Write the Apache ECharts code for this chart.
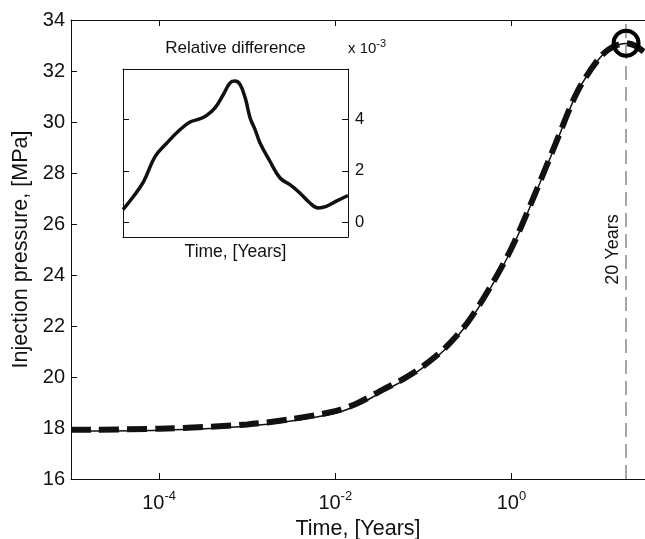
<!DOCTYPE html>
<html>
<head>
<meta charset="utf-8">
<script src="https://cdn.jsdelivr.net/npm/echarts@6/dist/echarts.min.js"></script>
<style>
html, body { margin: 0; padding: 0; background: #fff; }
#chart { width: 645px; height: 539px; }
</style>
</head>
<body>
<div id="chart"></div>
<script>
// main curves: time [years] vs injection pressure [MPa]
const times = [1e-5, 1e-4, 1e-3, 0.00316, 0.01, 0.0178, 0.0316, 0.0562, 0.1, 0.178, 0.316, 0.562, 1, 1.78, 3.16, 5.62, 10, 14.1, 20, 25.1, 31.6];
const pressureSolid = [17.88, 17.91, 18.07, 18.27, 18.58, 18.89, 19.36, 19.82, 20.38, 21.10, 22.08, 23.42, 25.00, 27.00, 29.10, 31.18, 32.50, 32.93, 33.08, 33.00, 32.76];
const pressureDashed = [17.93, 17.97, 18.14, 18.35, 18.66, 18.97, 19.43, 19.88, 20.43, 21.15, 22.13, 23.47, 25.05, 27.04, 29.14, 31.20, 32.52, 32.95, 33.09, 33.00, 32.76];

// 20 years marker
const markTime = [20];
const markPressure = [33.09];

// inset: relative difference (x 1e-3), position along the inset time axis
const diffPos = [0, 0.047, 0.092, 0.143, 0.195, 0.254, 0.298, 0.343, 0.372, 0.409, 0.446, 0.476, 0.498, 0.52, 0.543, 0.565, 0.587, 0.609, 0.653, 0.698, 0.742, 0.786, 0.831, 0.867, 0.904, 0.948, 1.0];
const diffValue = [0.49, 1.01, 1.59, 2.56, 3.08, 3.6, 3.89, 4.02, 4.15, 4.44, 4.96, 5.41, 5.48, 5.35, 4.83, 4.05, 3.6, 3.08, 2.37, 1.72, 1.46, 1.14, 0.75, 0.56, 0.62, 0.82, 1.04];

// tick labels
const xTicks = [1e-4, 1e-2, 1];
const insetTicks = [0, 2, 4];

const font = "'Liberation Sans', Arial, Helvetica, sans-serif";
const black = '#111';

const chart = echarts.init(document.getElementById('chart'));

const lineAxis = { show: true, onZero: false, lineStyle: { color: black, width: 1 } };
const inTick = (vals) => ({ show: true, inside: true, length: 6, customValues: vals, lineStyle: { color: black } });

const option = {
  animation: false,
  backgroundColor: '#fff',
  textStyle: { fontFamily: font },
  grid: [
    { left: 71, top: 20, right: 0, bottom: 60, outerBoundsMode: 'none', containLabel: false },
    { left: 123, top: 69, width: 225, height: 168, outerBoundsMode: 'none', containLabel: false }
  ],
  xAxis: [
    {
      type: 'log', logBase: 10, gridIndex: 0, min: 1e-5, max: 32.8,
      axisLine: lineAxis,
      axisTick: inTick(xTicks),
      splitLine: { show: false },
      axisLabel: {
        customValues: xTicks,
        margin: 11,
        color: black, fontSize: 20, fontFamily: font,
        formatter: (v) => '10{sup|' + Math.round(Math.log10(v)) + '}',
        rich: { sup: { fontSize: 13, fontFamily: font, color: black, padding: [0, 0, 13, 0] } }
      },
      name: 'Time, [Years]', nameLocation: 'middle', nameGap: 36,
      nameTextStyle: { fontSize: 21.5, color: black, fontFamily: font }
    },
    {
      type: 'log', logBase: 10, gridIndex: 0, min: 1e-5, max: 32.8, position: 'top',
      axisLine: lineAxis,
      axisTick: inTick(xTicks),
      axisLabel: { show: false },
      splitLine: { show: false }
    },
    {
      type: 'value', gridIndex: 1, min: 0, max: 1,
      axisLine: lineAxis,
      axisTick: { show: false },
      axisLabel: { show: false },
      splitLine: { show: false },
      name: 'Time, [Years]', nameLocation: 'middle', nameGap: 6,
      nameTextStyle: { fontSize: 17.5, color: black, fontFamily: font }
    },
    {
      type: 'value', gridIndex: 1, min: 0, max: 1, position: 'top',
      axisLine: lineAxis,
      axisTick: { show: false },
      axisLabel: { show: false },
      splitLine: { show: false },
      name: 'Relative difference', nameLocation: 'middle', nameGap: 12,
      nameTextStyle: { fontSize: 17, color: black, fontFamily: font }
    }
  ],
  yAxis: [
    {
      type: 'value', gridIndex: 0, min: 16, max: 34, interval: 2,
      axisLine: lineAxis,
      axisTick: { show: true, inside: true, length: 6, lineStyle: { color: black } },
      splitLine: { show: false },
      axisLabel: { color: black, fontSize: 20, fontFamily: font, margin: 6 },
      name: 'Injection pressure, [MPa]', nameLocation: 'middle', nameGap: 38,
      nameTextStyle: { fontSize: 21.5, color: black, fontFamily: font }
    },
    {
      type: 'value', gridIndex: 1, min: -0.57, max: 5.95,
      axisLine: lineAxis,
      axisTick: inTick(insetTicks),
      axisLabel: { show: false },
      splitLine: { show: false }
    },
    {
      type: 'value', gridIndex: 1, min: -0.57, max: 5.95, position: 'right',
      axisLine: lineAxis,
      axisTick: inTick(insetTicks),
      splitLine: { show: false },
      axisLabel: { customValues: insetTicks, color: black, fontSize: 16.5, fontFamily: font, margin: 7 },
      name: 'x 10{sup|-3}', nameLocation: 'end', nameGap: 10,
      nameTextStyle: {
        align: 'left', fontSize: 15, color: black, fontFamily: font,
        rich: { sup: { fontSize: 11, fontFamily: font, color: black, padding: [0, 0, 10, 0] } }
      }
    }
  ],
  series: [
    {
      name: 'solid', type: 'line', xAxisIndex: 0, yAxisIndex: 0,
      data: times.map((t, i) => [t, pressureSolid[i]]),
      smooth: 0.3, showSymbol: false,
      lineStyle: { color: black, width: 1.5 }
    },
    {
      name: 'dashed', type: 'line', xAxisIndex: 0, yAxisIndex: 0,
      data: times.map((t, i) => [t, pressureDashed[i]]),
      smooth: 0.3, showSymbol: false,
      lineStyle: { color: black, width: 6, type: [20, 8], cap: 'butt' }
    },
    {
      name: 'marker', type: 'scatter', xAxisIndex: 0, yAxisIndex: 0,
      data: markTime.map((t, i) => [t, markPressure[i]]),
      symbol: 'circle', symbolSize: 25, z: 5,
      itemStyle: { color: 'rgba(0,0,0,0)', borderColor: '#000', borderWidth: 4, opacity: 1 },
      markLine: {
        silent: true, symbol: ['none', 'none'],
        data: [{ xAxis: markTime[0] }],
        lineStyle: { color: '#8a8a8a', type: [14, 7], width: 1.5 },
        label: {
          show: true, formatter: '20 Years', position: 'insideMiddleTop',
          distance: 4, fontSize: 18, color: black, fontFamily: font
        }
      }
    },
    {
      name: 'diff', type: 'line', xAxisIndex: 2, yAxisIndex: 1,
      data: diffPos.map((p, i) => [p, diffValue[i]]),
      smooth: 0.4, showSymbol: false,
      lineStyle: { color: black, width: 3.5 }
    }
  ]
};

chart.setOption(option);
window.addEventListener('resize', () => chart.resize());
</script>
</body>
</html>
